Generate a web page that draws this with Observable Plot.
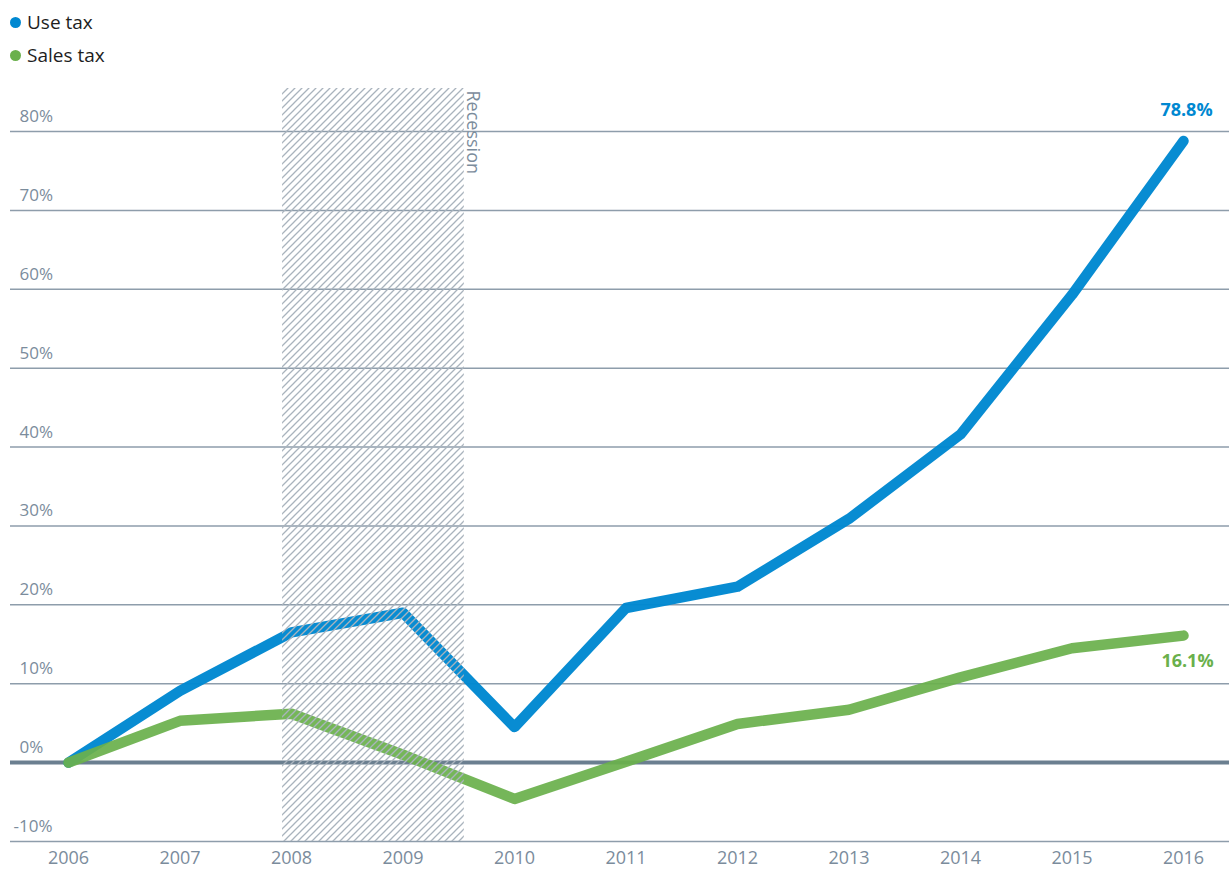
<!DOCTYPE html>
<html>
<head>
<meta charset="utf-8">
<script src="https://cdn.jsdelivr.net/npm/d3@7"></script>
<script src="https://cdn.jsdelivr.net/npm/@observablehq/plot@0.6"></script>
<style>
  html, body { margin: 0; padding: 0; background: #fff; }
  body { width: 1229px; height: 869px; overflow: hidden; font-family: "Open Sans", sans-serif; }
  #legend { position: relative; height: 75px; }
  .item { position: absolute; left: 10px; display: flex; align-items: center; font-size: 19px; color: #1e1e1e; }
  .dot { width: 11px; height: 11px; border-radius: 50%; margin-right: 6px; }
</style>
</head>
<body>
<div id="legend"></div>
<div id="chart"></div>
<script>
const years = [2006, 2007, 2008, 2009, 2010, 2011, 2012, 2013, 2014, 2015, 2016];
const useTax = [0, 9.1, 16.5, 19.0, 4.5, 19.6, 22.3, 30.9, 41.6, 59.3, 78.8];
const salesTax = [0, 5.3, 6.2, 1.0, -4.6, 0.1, 4.9, 6.7, 10.8, 14.5, 16.1];
const seriesNames = ["Use tax", "Sales tax"];
const seriesColors = ["#0088d1", "#6ab04c"];
const yTicks = [-10, 0, 10, 20, 30, 40, 50, 60, 70, 80];
const recession = [2007.92, 2009.55]; // Dec 2007 – mid 2009
const recessionLabel = "Recession";

// legend
const legend = document.getElementById("legend");
seriesNames.forEach((name, i) => {
  const item = document.createElement("div");
  item.className = "item";
  item.style.top = (i === 0 ? 9 : 42) + "px";
  item.innerHTML = `<span class="dot" style="background:${seriesColors[i]}"></span><span>${name}</span>`;
  legend.appendChild(item);
});

const rows = [];
years.forEach((yr, i) => {
  rows.push({series: seriesNames[0], year: yr, value: useTax[i]});
  rows.push({series: seriesNames[1], year: yr, value: salesTax[i]});
});
const useRows = rows.filter(d => d.series === seriesNames[0]);
const salesRows = rows.filter(d => d.series === seriesNames[1]);
const lastUse = useRows.slice(-1);
const lastSales = salesRows.slice(-1);

const defs = () => {
  const d = d3.create("svg:defs");
  const p = d.append("pattern")
    .attr("id", "hatch")
    .attr("patternUnits", "userSpaceOnUse")
    .attr("width", 7).attr("height", 7);
  p.append("path")
    .attr("d", "M-1,1 l2,-2 M0,7 l7,-7 M6,8 l2,-2")
    .attr("stroke", "#a9b3bd")
    .attr("stroke-width", 1.3);
  return d.node();
};

const gridColor = "#8e9dab";
const labelColor = "#7b8c9c";

const chart = Plot.plot({
  width: 1229,
  height: 794,
  marginLeft: 10,
  marginRight: 0,
  marginTop: 13,
  marginBottom: 28,
  style: {fontFamily: "'Open Sans', sans-serif", background: "transparent"},
  x: {domain: [years[0], years[years.length - 1]], range: [68, 1183], axis: null},
  y: {domain: [-10, 80], range: [766, 56], axis: null},
  marks: [
    defs,
    Plot.ruleY(yTicks.filter(d => d !== 0), {stroke: gridColor, strokeWidth: 1.5}),
    Plot.ruleY([0], {stroke: "#6b7f90", strokeWidth: 4}),
    Plot.line(useRows, {x: "year", y: "value", stroke: seriesColors[0], strokeWidth: 10.5, strokeLinecap: "round", strokeLinejoin: "round", strokeOpacity: 0.97}),
    Plot.line(salesRows, {x: "year", y: "value", stroke: seriesColors[1], strokeWidth: 10.5, strokeLinecap: "round", strokeLinejoin: "round", strokeOpacity: 0.93}),
    Plot.rectX([recession], {x1: d => d[0], x2: d => d[1], fill: "url(#hatch)"}),
    Plot.text([recessionLabel], {x: recession[1], frameAnchor: "top", text: d => d, rotate: 90, textAnchor: "start", lineAnchor: "bottom", dx: 3, dy: 2, fontSize: 18, fill: labelColor}),
    Plot.text(yTicks.filter(d => d >= 0), {y: d => d, text: d => `${d}%`, frameAnchor: "left", textAnchor: "start", dx: 9, dy: -15, fontSize: 17, fill: labelColor}),
    Plot.text(yTicks.filter(d => d < 0), {y: d => d, text: d => `${d}%`, frameAnchor: "left", textAnchor: "start", dx: 3, dy: -15, fontSize: 17, fill: labelColor}),
    Plot.text(lastUse, {x: "year", y: "value", text: d => `${d.value.toFixed(1)}%`, dx: 3, dy: -31, fontSize: 18, fontWeight: "bold", fill: seriesColors[0]}),
    Plot.text(lastSales, {x: "year", y: "value", text: d => `${d.value.toFixed(1)}%`, dx: 4, dy: 26, fontSize: 18, fontWeight: "bold", fill: seriesColors[1]}),
    Plot.axisX({ticks: years, tickFormat: d => String(d), tickSize: 0, tickPadding: 10, fontSize: 18, color: labelColor, label: null})
  ]
});
document.getElementById("chart").appendChild(chart);
</script>
</body>
</html>
